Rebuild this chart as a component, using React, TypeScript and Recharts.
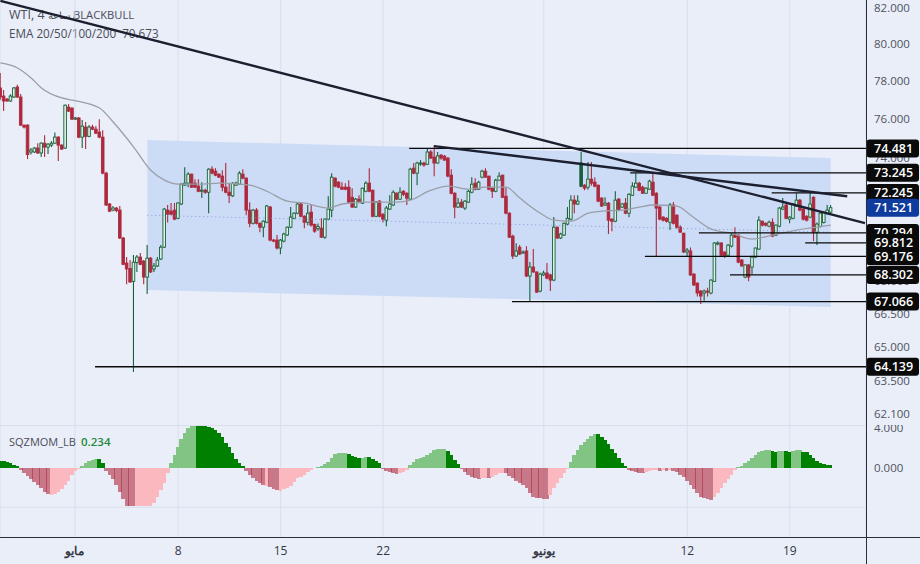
import { ComposedChart, Bar, Line, Area, XAxis, YAxis, CartesianGrid, ReferenceLine } from 'recharts';

// 4h candles
const opens = [
  77.63,77.2,77.04,76.94,77.15,77.68,77.15,75.68,75.68,74.3,
  74.3,74.5,74.25,74.75,74.55,74.65,74.75,75.06,74.65,74.5,
  76.62,76.57,75.99,76.05,75.06,75.58,75.1,75.58,75.47,75.32,
  75.06,73.23,71.7,71.4,71.5,71.4,70.05,68.86,68.6,68.0,
  68.88,69.14,68.95,68.2,69.09,68.58,68.72,69.05,69.61,71.4,
  71.35,71.4,71.0,71.7,72.63,72.73,73.18,72.73,72.58,72.33,
  72.38,72.28,73.43,73.33,73.18,73.08,72.53,72.28,72.1,72.63,
  72.68,73.18,72.98,71.4,70.76,71.4,70.76,70.57,70.81,71.55,
  69.95,69.95,69.57,69.9,70.19,70.57,71.0,71.25,71.7,71.1,
  70.81,71.3,70.7,70.5,70.52,70.09,70.96,71.4,72.98,72.78,
  72.53,72.53,72.53,72.03,71.55,71.94,71.74,72.33,72.73,72.38,
  71.1,71.84,71.2,70.91,71.45,71.65,72.23,71.94,72.33,72.23,
  71.94,73.48,73.23,73.7,73.74,73.68,74.3,74.04,73.74,74.14,
  74.09,73.99,73.13,72.23,71.55,71.79,71.5,71.79,72.28,72.73,
  72.43,73.03,73.33,73.08,72.48,72.33,72.88,73.13,72.08,71.25,
  70.14,69.19,69.61,69.33,69.43,68.25,68.67,68.44,67.55,68.3,
  68.39,68.3,68.06,70.57,70.05,70.19,70.72,70.96,71.89,71.7,
  72.58,72.63,72.53,72.93,72.78,72.63,71.99,71.65,71.74,70.96,
  70.86,71.94,71.55,71.74,71.25,72.13,72.53,72.73,72.53,72.23,
  72.43,72.78,72.23,71.55,71.06,71.0,70.81,71.65,71.15,70.57,
  70.28,69.38,69.43,68.34,67.92,67.55,67.46,67.55,67.46,68.0,
  69.76,69.81,69.38,69.23,69.66,70.19,70.19,69.0,68.2,68.77,
  68.67,69.14,69.52,70.86,70.76,70.62,70.81,70.19,70.62,71.45,
  71.65,70.96,71.0,71.6,71.89,71.45,71.1,71.06,72.03,70.33,
  70.6,70.8,71.25,71.3,
];
const closes = [
  77.15,76.94,76.94,77.2,77.63,77.15,75.68,75.58,74.17,74.4,
  74.5,74.25,74.75,74.55,74.7,74.75,75.06,74.65,74.45,76.72,
  76.41,75.99,76.05,75.06,75.63,75.1,75.58,75.47,75.26,75.06,
  73.23,71.65,71.35,71.5,71.38,70.05,68.8,68.58,67.97,68.9,
  69.14,68.8,68.2,69.09,68.44,68.72,69.0,69.61,71.45,71.2,
  71.2,70.96,71.75,72.68,72.73,73.18,72.53,72.53,72.33,72.38,
  72.28,73.43,73.23,73.13,73.03,72.53,72.28,72.13,72.73,72.73,
  73.23,72.98,71.4,70.76,71.4,70.76,70.57,70.86,71.6,69.95,
  69.9,69.57,69.95,70.24,70.57,71.06,71.25,71.7,71.1,70.81,
  71.25,70.67,70.38,70.6,70.09,70.96,71.45,73.03,72.58,72.53,
  72.43,72.43,71.79,71.55,71.94,71.79,72.48,72.73,72.33,71.1,
  71.79,71.1,70.96,71.5,71.7,72.28,71.94,72.28,72.18,71.99,
  73.43,73.23,73.74,73.74,73.64,74.3,73.99,73.74,74.1,73.99,
  73.89,73.08,72.23,71.55,71.74,71.55,71.84,72.33,72.68,72.43,
  72.78,73.33,73.03,72.43,72.33,72.88,73.08,72.03,71.25,70.09,
  69.19,69.43,69.28,69.38,68.25,68.67,68.44,67.5,68.34,68.39,
  68.15,68.06,70.57,70.05,70.24,70.76,71.0,71.89,71.7,71.84,
  73.74,72.48,72.93,72.73,72.58,71.84,71.6,71.74,70.91,70.86,
  71.89,71.4,71.7,71.25,72.18,72.58,72.73,72.38,72.23,72.48,
  72.83,72.13,71.5,70.96,70.91,70.86,71.65,70.76,70.57,70.33,
  69.38,69.47,68.3,67.83,67.46,67.32,67.55,67.5,68.06,69.81,
  69.81,69.23,69.19,69.71,70.19,70.09,68.9,68.72,68.77,68.2,
  69.14,69.57,70.91,70.67,70.67,70.81,70.14,70.67,71.5,71.55,
  71.0,71.06,71.7,71.89,71.4,70.96,70.91,71.7,70.33,70.72,
  71.25,71.3,71.4,71.52,
];
const highs = [
  78.43,77.52,77.1,77.3,77.68,77.8,77.31,75.7,75.72,74.5,
  74.55,74.75,74.8,75.16,74.75,74.85,75.3,75.1,74.7,76.75,
  76.78,76.6,76.1,76.1,75.94,75.84,75.68,75.7,75.63,75.99,
  75.42,73.3,71.75,71.6,71.55,71.6,70.1,69.14,69.0,69.24,
  69.24,69.33,69.0,69.71,69.14,68.86,69.14,69.71,71.5,71.65,
  71.75,71.75,71.78,72.72,73.53,73.28,73.2,72.93,72.93,72.78,
  72.45,73.48,73.58,73.48,73.23,73.38,73.74,72.73,72.78,72.8,
  73.33,73.43,73.03,71.79,71.45,71.5,70.8,70.91,71.65,71.6,
  70.0,70.19,70.0,70.3,70.6,71.55,71.3,71.75,71.75,71.15,
  71.65,71.65,70.75,70.75,71.0,71.0,72.08,73.23,73.03,72.83,
  72.78,72.73,72.88,72.48,72.0,72.13,72.5,72.83,73.48,72.4,
  71.85,71.9,71.25,71.6,72.13,72.38,72.28,72.53,72.38,72.28,
  73.5,73.74,73.8,73.89,73.8,74.45,74.4,74.65,74.3,74.2,
  74.15,74.05,73.43,72.28,71.99,71.94,71.9,72.4,73.03,72.98,
  72.85,73.4,73.48,73.1,72.5,72.95,73.28,73.15,72.53,71.3,
  70.2,69.8,69.71,69.45,69.66,68.91,69.52,68.46,68.4,68.5,
  68.86,68.35,71.06,70.6,70.3,70.8,71.55,72.13,72.13,72.13,
  74.3,72.68,73.79,73.79,73.03,72.65,72.03,72.03,71.8,71.0,
  72.33,72.0,71.75,71.99,72.23,72.78,73.23,72.8,72.6,72.53,
  72.9,73.28,72.28,71.6,71.1,71.05,71.75,71.8,71.2,70.67,
  70.3,69.57,69.6,68.38,67.95,67.6,67.62,67.7,68.1,69.85,
  69.9,69.85,69.42,69.76,70.29,70.57,70.22,69.05,68.8,68.8,
  69.2,69.6,71.1,70.9,70.8,70.9,71.0,70.7,71.55,71.99,
  71.7,71.1,71.75,72.23,71.95,71.5,71.15,72.28,72.08,70.8,
  71.3,71.35,71.65,71.65,
];
const lows = [
  76.99,76.41,76.9,76.9,77.1,77.1,75.63,75.5,73.94,74.17,
  74.25,74.2,74.05,74.05,74.2,74.55,74.72,73.84,74.4,74.45,
  76.36,75.95,75.95,75.0,74.5,74.45,75.06,75.42,75.22,75.0,
  73.18,71.6,71.3,71.35,71.3,70.0,68.75,67.87,67.93,63.91,
  68.44,68.76,67.87,67.41,68.39,68.44,68.67,69.0,69.58,70.8,
  71.15,70.91,70.96,71.65,72.6,72.53,72.5,72.5,72.28,71.99,
  72.2,71.25,73.18,73.08,73.0,72.33,72.23,71.75,72.05,72.6,
  72.65,72.93,71.15,70.57,70.7,70.7,70.33,70.09,70.76,69.9,
  69.85,69.5,69.28,69.85,70.15,70.52,70.96,71.2,71.05,70.52,
  70.67,70.6,70.3,70.4,70.05,70.0,70.91,71.05,72.53,72.48,
  72.4,72.38,71.74,71.5,71.5,71.74,71.7,72.28,72.28,71.05,
  71.05,71.05,70.8,70.62,71.4,71.6,71.9,71.9,72.1,71.65,
  71.9,73.18,72.63,73.6,73.55,73.64,73.95,73.08,73.7,73.9,
  73.85,73.03,72.18,71.0,71.5,71.5,71.4,71.75,72.23,72.38,
  72.4,72.98,73.0,72.38,71.99,72.28,72.85,72.0,71.2,70.05,
  69.05,69.15,69.24,69.3,68.2,67.05,68.4,67.46,67.5,68.25,
  68.1,67.55,68.0,70.0,70.0,70.15,70.67,70.9,71.25,71.65,
  72.53,72.38,72.4,72.6,72.53,71.79,71.55,71.6,70.24,70.38,
  70.81,71.35,71.5,71.2,71.05,72.1,72.5,72.33,72.2,72.2,
  72.4,72.1,69.14,70.91,70.85,70.8,70.43,70.7,70.5,70.3,
  69.33,69.19,68.25,67.78,67.3,66.95,67.1,67.3,67.4,67.98,
  69.7,69.2,69.1,69.2,69.6,70.05,68.85,68.7,68.15,68.0,
  68.34,69.1,69.48,70.6,70.6,70.57,70.09,70.15,70.57,71.4,
  70.96,70.76,70.96,71.55,71.35,70.9,70.85,71.0,69.9,69.71,
  70.55,70.75,71.2,71.2,
];

// EMA, read at these candles only
const emaAt = [0,5,9,12,18,21,29,33,39,44,48,52,58,64,73,78,84,89,96,100,106,116,120,126,131,137,142,148,152,158,162,167,172,176,182,187,191,198,202,208,214,220,226,233,243];
const emaValues = [78.97,78.7,78.16,77.63,77.1,76.99,76.57,75.84,74.55,73.38,72.88,72.68,72.68,72.73,72.63,72.33,71.84,71.74,71.5,71.7,71.79,71.79,71.89,72.38,72.58,72.43,72.53,72.53,71.99,71.25,70.91,70.86,71.25,71.35,71.4,71.55,71.65,71.6,71.15,70.48,70.28,70.0,70.19,70.43,70.67];

// squeeze momentum
const momentum = [
  .67,.67,.57,.44,.27,.17,-.23,-.5,-.8,-1.17,
  -1.48,-1.75,-2.08,-2.45,-2.65,-2.72,-2.62,-2.42,-2.18,-1.75,
  -1.31,-.74,-.3,-.1,.2,.44,.64,.77,.84,.84,
  .44,-.3,-.74,-1.17,-1.75,-2.5,-3.16,-3.86,-3.86,-3.86,
  -3.86,-3.86,-3.86,-3.86,-3.86,-3.6,-3.0,-2.3,-1.58,-.57,
  .44,1.28,2.1,2.85,3.46,3.96,4.2,4.2,4.2,4.2,
  4.17,4.13,4.03,3.8,3.46,3.05,2.52,2.05,1.51,.84,
  .5,.17,-.3,-.74,-1.07,-1.31,-1.51,-1.75,-1.81,-1.91,
  -2.11,-2.25,-2.32,-2.18,-2.08,-1.85,-1.41,-1.05,-.97,-.74,
  -.4,-.23,-.07,.1,.2,.37,.6,.94,1.34,1.44,
  1.48,1.44,1.38,1.2,1.07,1.0,1.0,1.04,1.07,.84,
  .7,.44,-.1,-.33,-.47,-.57,-.64,-.5,-.4,-.23,
  .27,.6,.84,.97,1.1,1.28,1.5,1.78,1.88,1.88,
  1.85,1.68,1.28,.77,.37,-.17,-.4,-.74,-.9,-1.07,
  -1.14,-1.07,-1.07,-1.04,-.97,-.74,-.57,-.5,-.57,-.84,
  -1.07,-1.31,-1.51,-1.75,-2.08,-2.52,-2.92,-3.02,-3.09,-3.12,
  -3.15,-2.75,-2.08,-1.58,-1.07,-.57,-.17,.6,1.28,1.78,
  2.28,2.62,2.85,3.19,3.36,3.36,3.12,2.78,2.38,1.85,
  1.44,1.0,.5,.17,-.23,-.37,-.47,-.54,-.5,-.4,
  -.3,-.23,-.23,-.3,-.27,-.33,-.23,-.3,-.4,-.74,
  -.97,-1.31,-1.75,-2.18,-2.58,-2.92,-3.09,-3.19,-3.29,-2.92,
  -2.52,-2.08,-1.58,-1.17,-.74,-.23,.1,.2,.44,.7,
  1.0,1.28,1.54,1.68,1.75,1.78,1.68,1.58,1.64,1.68,
  1.68,1.58,1.71,1.78,1.75,1.61,1.54,1.28,.94,.7,
  .5,.37,.27,.234,
];
// runs of [state, candles]: G strong up, g weak up, R falling down, r rising down
const momentumRuns: [string, number][] = [
  ['G',6],['R',9],['r',9],['g',5],['G',2],['R',9],['r',10],['g',8],['G',14],['R',6],['r',1],['R',3],
  ['r',11],['g',9],['G',4],['g',2],['G',4],['R',5],['r',3],['g',11],['G',4],['R',6],['r',2],['R',1],
  ['r',4],['R',13],['r',6],['g',8],['G',9],['R',5],['r',4],['R',1],['r',1],['R',1],['r',1],['R',12],
  ['r',7],['g',10],['G',2],['g',2],['G',2],['g',3],['G',9],
];
const momentumColors: Record<string, string> = { G: '#008000', g: '#81c484', R: '#b02a3e', r: '#fbb8bf' };

const timeTicks = [21.8, 52, 82, 112, 159, 201, 231];
const timeLabels = ['مايو', '8', '15', '22', 'يونيو', '12', '19'];
const monthTicks = ['مايو', 'يونيو'];

const priceTicks = [82, 80, 78, 76, 74, 72, 70, 68, 66.5, 65, 63.5, 62.1];
const momentumTicks = [4, 0];
const lastPrice = 71.521;

// horizontal levels: value and the candle they start from
const levelValues = [74.481, 73.245, 72.245, 70.294, 69.176, 69.812, 68.302, 67.066, 64.139];
const levelStarts = [119.6, 184.3, 225.7, 204.4, 188.6, 235.5, 213.5, 149.7, 27.7];
const levelEnd = 253.3;

// two trendlines [candle, price]
const trendA = [[0, 82.4], [253, 70.77]];
const trendB = [[126.9, 74.6], [247.8, 72.08]];

// channel drawn on the chart
const channelAt = [43, 243];
const channelTop = [74.91, 73.99];
const channelMid = [71.15, 70.33];
const channelBottom = [67.6, 66.82];

const X_DOMAIN: [number, number] = [-0.117, 253.3];
const BG = '#e9eef9';
const AXIS = '#2a2e39';
const GRID = '#d9dfeb';
const FONT = '"Open Sans", Roboto, sans-serif';

const ohlcData = opens.map((o, i) => {
  const e = emaAt.indexOf(i);
  const c = channelAt.indexOf(i);
  return {
    i,
    open: o,
    close: closes[i],
    range: [lows[i], highs[i]],
    ema: e >= 0 ? emaValues[e] : null,
    channel: c >= 0 ? [channelBottom[c], channelTop[c]] : null,
    mid: c >= 0 ? channelMid[c] : null,
  };
});

const momentumStates = momentumRuns.flatMap(([s, n]) => Array.from({ length: n }, () => s));
const momentumData = momentum.map((m, i) => ({ i, mom: m, state: momentumStates[i] }));

function Candle(props: any) {
  const { x, y, width, height, payload } = props;
  const high = payload.range[1];
  const low = payload.range[0];
  const cx = x + width / 2;
  const yOf = (v: number) => y + (height * Math.log(high / v)) / Math.log(high / low);
  const up = payload.close >= payload.open;
  const top = yOf(Math.max(payload.open, payload.close));
  const bottom = yOf(Math.min(payload.open, payload.close));
  const stroke = up ? '#17603a' : '#ad2a3e';
  return (
    <g>
      <line x1={cx} x2={cx} y1={y} y2={y + height} stroke={stroke} strokeWidth={1.1} />
      <rect
        x={cx - 1.3}
        y={top}
        width={2.6}
        height={Math.max(bottom - top, 1)}
        fill={up ? (payload.i === 170 ? '#17603a' : '#dcefe4') : '#ad2a3e'}
        stroke={stroke}
        strokeWidth={0.9}
      />
    </g>
  );
}

// recharts squeezes bars to 90% of the band, so widen them here to close the gaps
function MomentumBar(props: any) {
  const { x, y, width, height, payload } = props;
  const cx = x + width / 2;
  const top = Math.min(y, y + height);
  return (
    <rect
      x={cx - 1.9}
      y={top}
      width={3.8}
      height={Math.abs(height)}
      fill={momentumColors[payload.state]}
      fillOpacity={payload.state === 'R' ? 0.6 : 1}
      shapeRendering="crispEdges"
    />
  );
}

function PriceTick(props: any) {
  const { x, y, payload } = props;
  const v = payload.value;
  const isLevel = levelValues.includes(v);
  const isLast = v === lastPrice;
  if (!isLevel && !isLast) {
    return (
      <text x={x} y={y + 4} fill="#50535e" fontSize={11.5} fontFamily={FONT}>
        {v.toFixed(3)}
      </text>
    );
  }
  return (
    <g>
      <rect x={x - 7.5} y={y - 9} width={52.5} height={18} rx={3} fill={isLast ? '#0f3a9e' : '#0a0a0a'} />
      <text x={x} y={y + 4.5} fill="#fff" fontSize={12.5} fontWeight={600} fontFamily={FONT}>
        {v.toFixed(3)}
      </text>
    </g>
  );
}

function MomentumTick(props: any) {
  const { x, y, payload } = props;
  return (
    <text x={x} y={y + 4} fill="#50535e" fontSize={11.5} fontFamily={FONT}>
      {payload.value.toFixed(3)}
    </text>
  );
}

function TimeTick(props: any) {
  const { x, y, payload } = props;
  const label = timeLabels[timeTicks.indexOf(payload.value)];
  return (
    <text
      x={x}
      y={y + 10}
      textAnchor="middle"
      fill="#343844"
      fontSize={12}
      fontWeight={monthTicks.includes(label) ? 700 : 400}
      fontFamily={FONT}
    >
      {label}
    </text>
  );
}

const legendText = { position: 'absolute' as const, left: 9, fontFamily: FONT, fontSize: 11.5, color: '#4a4d58', whiteSpace: 'pre' as const };

export default function App() {
  return (
    <div style={{ position: 'absolute', left: 0, top: 0, width: 920, height: 564, background: BG, overflow: 'hidden' }}>
      <div style={{ ...legendText, top: 6, fontSize: 12.5 }}>WTI, 4 <span style={{ fontSize: 10 }}>ساعة ,</span></div>
      <div style={{ ...legendText, top: 7, left: 73, fontSize: 11.2 }}>BLACKBULL</div>
      <div style={{ ...legendText, top: 25, fontSize: 11.7 }}>EMA 20/50/100/200  70.673</div>

      <div style={{ position: 'absolute', left: 0, top: 0 }}>
        <ComposedChart width={920} height={425} data={ohlcData} margin={{ top: 0, right: 0, bottom: 0, left: 0 }}>
          <CartesianGrid horizontal={false} stroke={GRID} />
          <XAxis dataKey="i" type="number" hide domain={X_DOMAIN} ticks={timeTicks} allowDataOverflow />
          <YAxis
            orientation="right"
            width={54}
            scale="log"
            type="number"
            domain={[61.63, 82.45]}
            allowDataOverflow
            ticks={[...priceTicks, ...levelValues.slice(0, 3), lastPrice, ...levelValues.slice(3)]}
            interval={0}
            tick={PriceTick}
            tickLine={false}
            axisLine={false}
          />
          <Area dataKey="channel" stroke="none" fill="#cddcf6" fillOpacity={1} connectNulls isAnimationActive={false} dot={false} activeDot={false} />
          <Line dataKey="mid" stroke="#7f9ddb" strokeWidth={1} strokeDasharray="1 3" connectNulls dot={false} activeDot={false} isAnimationActive={false} />
          <Line dataKey="ema" type="monotone" stroke="#9a9ea9" strokeWidth={1.3} connectNulls dot={false} activeDot={false} isAnimationActive={false} />
          <Bar dataKey="range" barSize={3} shape={Candle} isAnimationActive={false} />
          {levelValues.map((v, k) => (
            <ReferenceLine key={v} segment={[{ x: levelStarts[k], y: v }, { x: levelEnd, y: v }]} stroke="#0a0a0a" strokeWidth={1.3} />
          ))}
          {[trendA, trendB].map((t, k) => (
            <ReferenceLine key={k} segment={[{ x: t[0][0], y: t[0][1] }, { x: t[1][0], y: t[1][1] }]} stroke="#1b1f30" strokeWidth={2.4} />
          ))}
        </ComposedChart>
      </div>

      <div style={{ position: 'absolute', left: 0, top: 425, width: 920, height: 139, overflow: 'hidden' }}>
        <ComposedChart width={920} height={139} data={momentumData} margin={{ top: 0, right: 0, bottom: 0, left: 0 }}>
          <CartesianGrid horizontal={false} stroke={GRID} />
          <XAxis
            dataKey="i"
            type="number"
            domain={X_DOMAIN}
            ticks={timeTicks}
            allowDataOverflow
            height={27}
            interval={0}
            tick={TimeTick}
            tickLine={false}
            axisLine={false}
          />
          <YAxis
            orientation="right"
            width={54}
            type="number"
            domain={[-7, 4.3]}
            allowDataOverflow
            ticks={momentumTicks}
            interval={0}
            tick={MomentumTick}
            tickLine={false}
            axisLine={false}
          />
          <ReferenceLine y={-4} stroke={GRID} />
          <Bar dataKey="mom" barSize={3} shape={MomentumBar} isAnimationActive={false} />
        </ComposedChart>
      </div>

      <div style={{ position: 'absolute', left: 0, top: 425, width: 866, height: 1, background: GRID }} />
      <div style={{ position: 'absolute', left: 866, top: 0, width: 1, height: 564, background: AXIS }} />
      <div style={{ position: 'absolute', left: 0, top: 537, width: 920, height: 1, background: AXIS }} />

      <div style={{ ...legendText, top: 434, fontSize: 11 }}>SQZMOM_LB</div>
      <div style={{ ...legendText, top: 434, left: 81, color: '#1f8a3a', fontWeight: 600 }}>0.234</div>
    </div>
  );
}
